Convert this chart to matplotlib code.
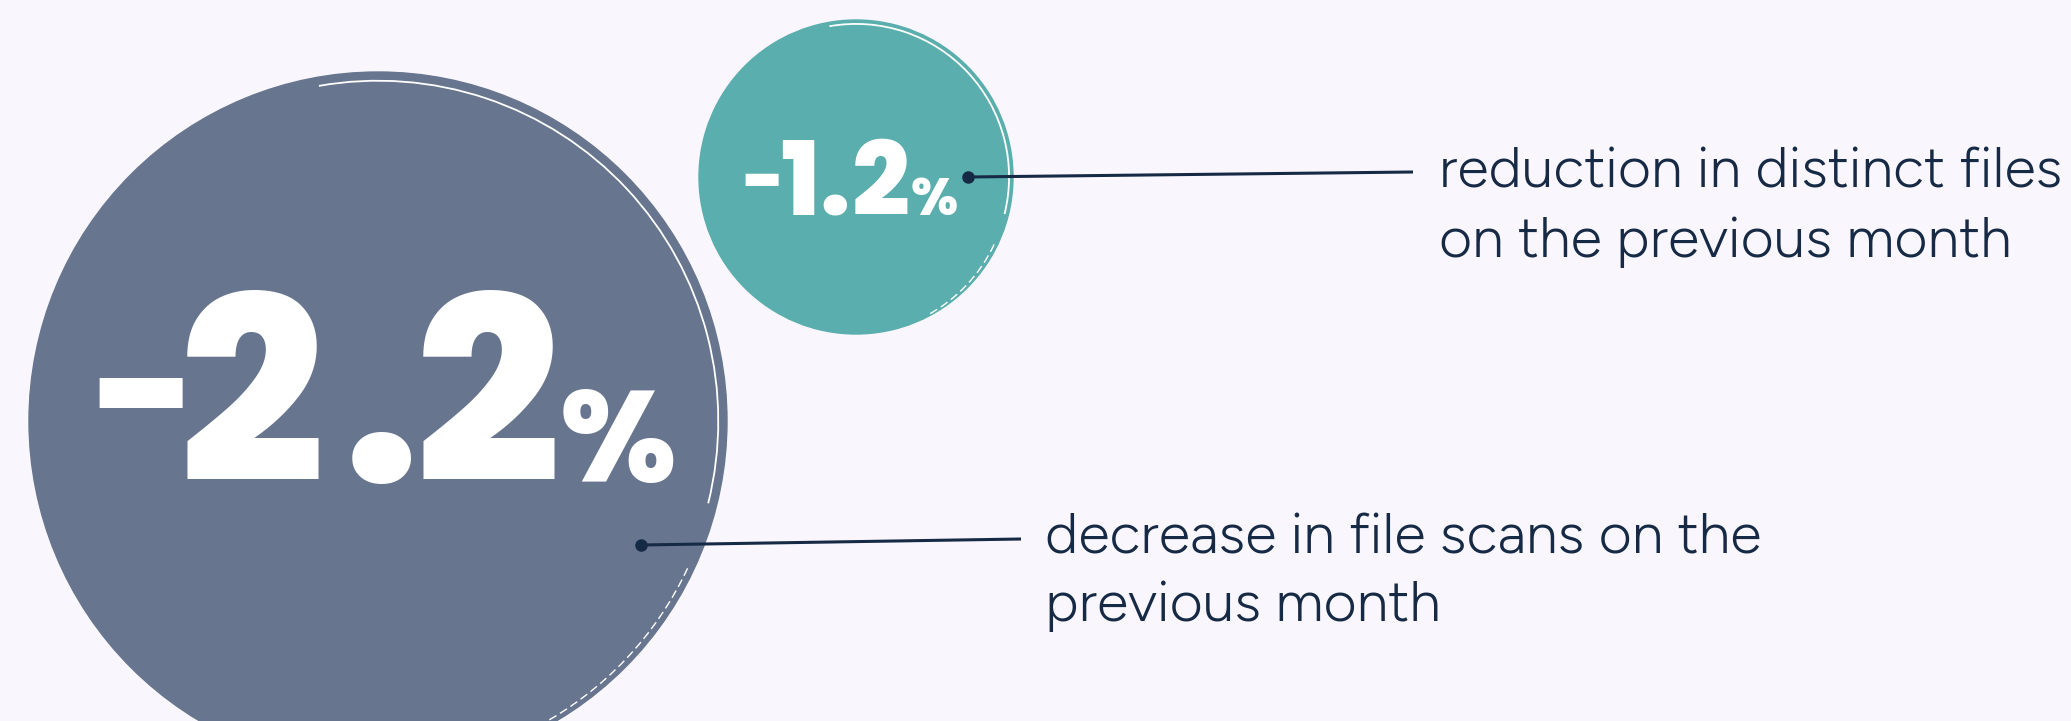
import matplotlib
matplotlib.use("Agg")
import matplotlib.pyplot as plt
from matplotlib.patches import Circle, Arc
from matplotlib.textpath import TextPath
from matplotlib.font_manager import FontProperties

# values shown in the two bubbles
values = [-2.2, -1.2]
labels = ["decrease in file scans on the\nprevious month",
          "reduction in distinct files\non the previous month"]
bubble_colors = ["#67758F", "#5AAEAD"]

bg = "#F9F7FD"
navy = "#172A45"
DPI = 100
W, H = 2071, 721

num_font = FontProperties(family="Poppins", weight="extra bold")
lab_font = FontProperties(family="Figtree", weight="normal")


def ink(ch, fp):
    return TextPath((0, 0), ch, size=100, prop=fp).get_extents()


def glyph(x_left, base, ch, fs):
    """draw one glyph so that its ink starts at x_left"""
    lsb = ink(ch, num_font).x0 / 100 * fs * DPI / 72
    ax.text(x_left - lsb, base, ch, color="white", fontproperties=num_font,
            fontsize=fs, ha="left", va="baseline", zorder=3)


fig = plt.figure(figsize=(W / DPI, H / DPI), dpi=DPI, facecolor=bg)
ax = fig.add_axes([0, 0, 1, 1])
ax.set_xlim(0, W)
ax.set_ylim(H, 0)
ax.axis("off")

# layout for each bubble (pixel coords, y downwards)
layout = [
    dict(c=(378, 421), r=349, base=482, digit_h=189, pct_h=94, dash_w=83,
         lefts=[99, 187, 352, 423, 563],
         dot=(641, 545), end=(1021, 539), lx=1045, ly=553, gap=68, lw_target=716),
    dict(c=(856, 177), r=157, base=215, digit_h=75, pct_h=38, dash_w=33,
         lefts=[745, 782, 823, 855, 912],
         dot=(968, 177), end=(1413, 172), lx=1439, ly=187, gap=70, lw_target=623),
]

renderer = fig.canvas.get_renderer()

for val, lab, col, L in zip(values, labels, bubble_colors, layout):
    cx, cy = L["c"]
    r = L["r"]
    ax.add_patch(Circle((cx, cy), r, color=col, zorder=1))
    # brush-stroke texture near the rim
    ax.add_patch(Arc((cx, cy), 2 * r * 0.975, 2 * r * 0.975, theta1=-100, theta2=14,
                     color="white", lw=1.3, zorder=2))
    ax.add_patch(Arc((cx - 2, cy + 2), 2 * r * 0.985, 2 * r * 0.985, theta1=25, theta2=62,
                     color="white", lw=1.0, ls=(0, (6, 3)), zorder=2))

    txt = f"{val:.1f}"
    fs = L["digit_h"] / ink("2", num_font).height * 100 * 72 / DPI
    dash_fs = L["dash_w"] / ink("-", num_font).width * 100 * 72 / DPI
    for ch, x in zip(txt, L["lefts"]):
        if ch == "-":
            # hyphen sits at mid digit height
            e = ink("-", num_font)
            mid = (e.y0 + e.y1) / 2 / 100 * dash_fs * DPI / 72
            glyph(x, L["base"] - L["digit_h"] * 0.47 + mid, ch, dash_fs)
        else:
            glyph(x, L["base"], ch, fs)
    pfs = L["pct_h"] / ink("%", num_font).height * 100 * 72 / DPI
    glyph(L["lefts"][-1], L["base"], "%", pfs)

    # connector
    ax.plot([L["dot"][0], L["end"][0]], [L["dot"][1], L["end"][1]],
            color=navy, lw=2.2, zorder=4, solid_capstyle="butt")
    ax.plot([L["dot"][0]], [L["dot"][1]], "o", color=navy, ms=8, zorder=5)

    # label, sized so that the first line spans the reference width
    lines = lab.split("\n")
    t0 = ax.text(L["lx"], L["ly"], lines[0], color=navy, fontproperties=lab_font,
                 fontsize=40, ha="left", va="baseline", zorder=3)
    w = t0.get_window_extent(renderer).width
    t0.set_fontsize(40 * L["lw_target"] / w)
    for i, line in enumerate(lines[1:], start=1):
        ax.text(L["lx"], L["ly"] + i * L["gap"], line, color=navy, fontproperties=lab_font,
                fontsize=t0.get_fontsize(), ha="left", va="baseline", zorder=3)

fig.savefig("out.png", dpi=DPI, facecolor=bg)
